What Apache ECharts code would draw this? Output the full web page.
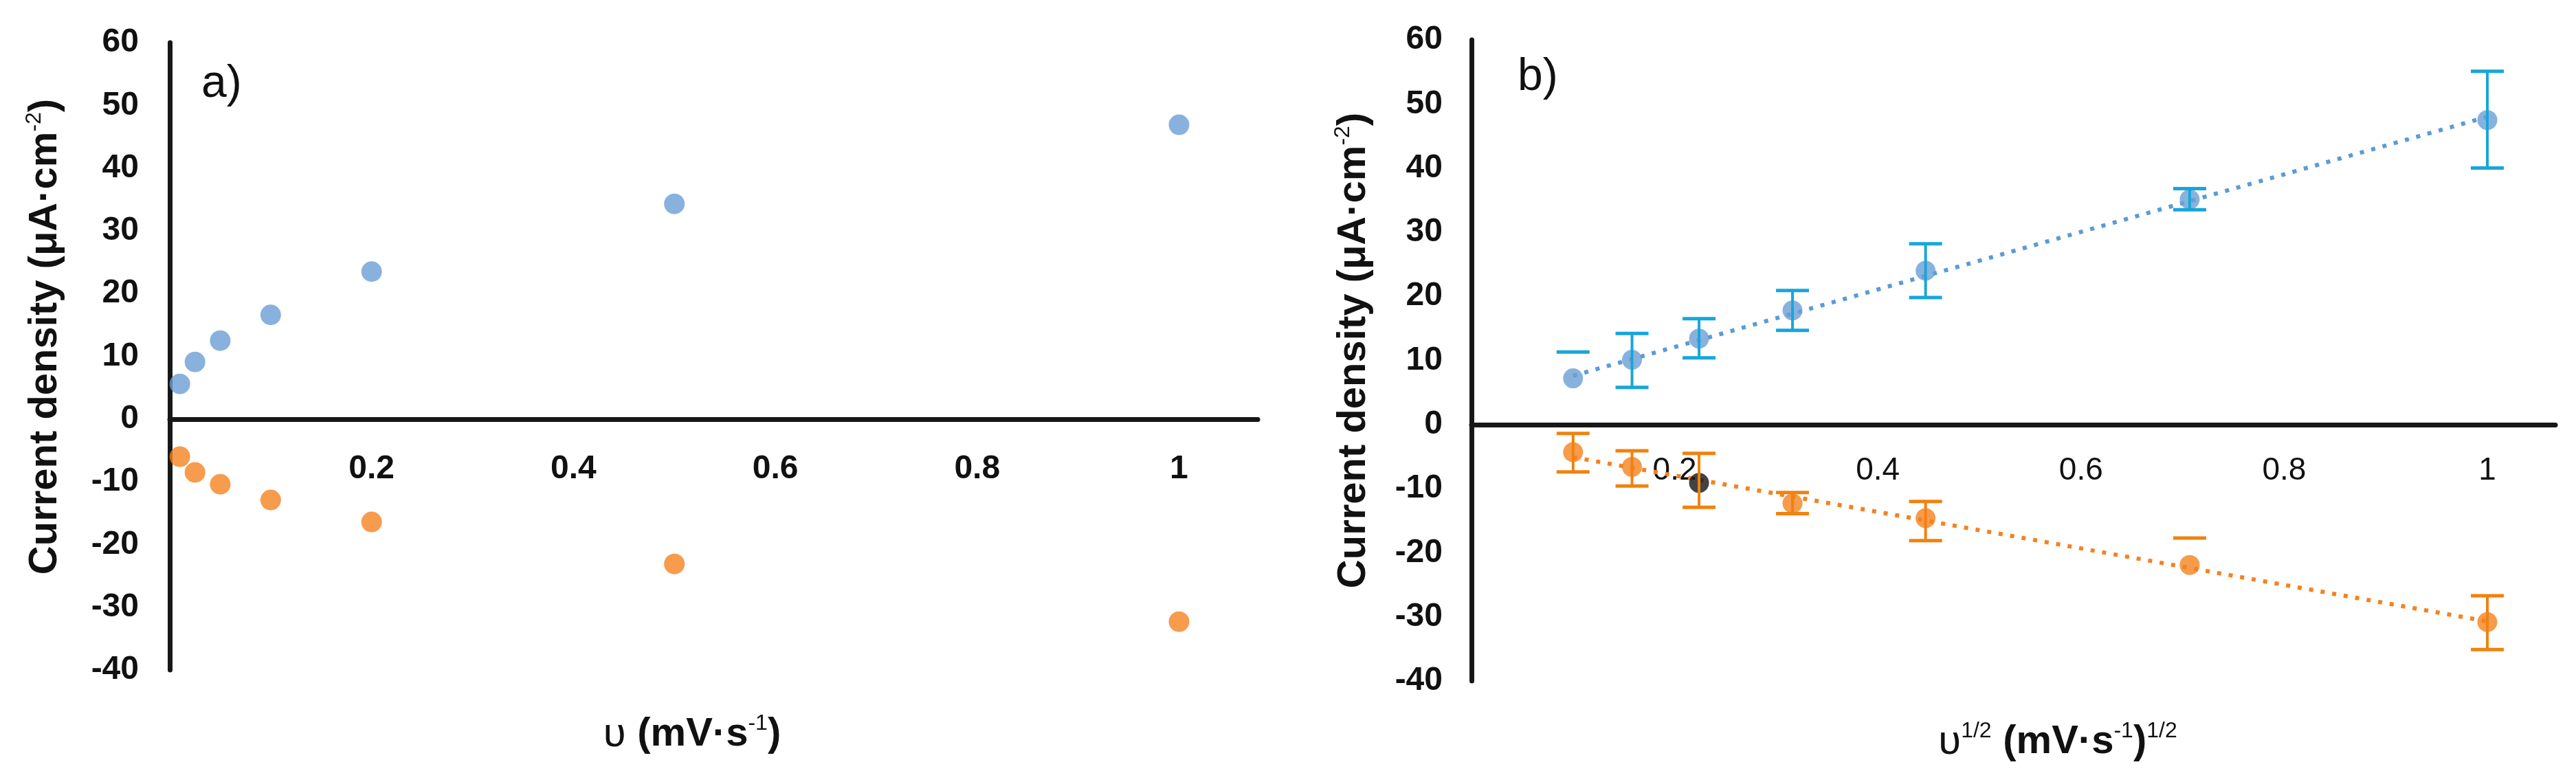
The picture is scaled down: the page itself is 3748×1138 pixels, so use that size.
<!DOCTYPE html>
<html lang="en">
<head>
<meta charset="UTF-8">
<title>Current density vs scan rate</title>
<script src="https://cdn.jsdelivr.net/npm/echarts@6/dist/echarts.min.js"></script>
<style>
  html, body { margin: 0; padding: 0; background: #fff; }
  #chart { width: 3748px; height: 1138px; }
</style>
</head>
<body>
<div id="chart"></div>
<script>
// panel a: current density vs scan rate
var scanRate   = [0.01, 0.025, 0.05, 0.1, 0.2, 0.5, 1];
var anodicA    = [5.6, 9.1, 12.5, 16.6, 23.5, 34.3, 46.9];
var cathodicA  = [-6.0, -8.5, -10.4, -12.9, -16.4, -23.1, -32.3];

// panel b: current density vs square root of scan rate, with error bars
var sqrtRate   = [0.1, 0.158, 0.224, 0.316, 0.447, 0.707, 1];
var anodicB    = [7.2, 10.1, 13.4, 17.8, 24.0, 35.1, 47.5];
var anodicHi   = [11.3, 14.2, 16.5, 20.9, 28.2, 36.8, 55.1];
var anodicLo   = [null, 5.8, 10.4, 14.7, 19.8, 33.5, 40.0];
var cathodicB  = [-4.3, -6.6, -9.1, -12.3, -14.6, -21.9, -30.8];
var cathodicHi = [-1.4, -4.1, -4.5, -10.6, -12.0, -17.7, -26.7];
var cathodicLo = [-7.4, -9.6, -12.9, -13.9, -18.1, null, -35.1];

// linear trend lines of panel b (ends)
var fitX         = [0.1, 1];
var anodicFitY   = [7.6, 48.0];
var cathodicFitY = [-5.1, -30.7];

var yTicks = [-40, 60, 10];   // min, max, step

var BLUE = '#6A9FD4', ORANGE = '#F5821F';
var BLUE_ERR = '#17A6DA', ORANGE_ERR = '#F0820F';
var AXIS = '#161816';
var FONT = "'Liberation Sans', Arial, sans-serif";

var grids = [
    {left: 247, top: 62, width: 1583, height: 913},
    {left: 2141, top: 58, width: 1577, height: 933}
];

function pairs(xs, ys) {
    return xs.map(function (x, i) { return [x, ys[i]]; });
}

function xFormatter(v) {
    if (v <= 0 || Math.abs(v * 5 - Math.round(v * 5)) > 1e-6) return '';
    return String(+v.toFixed(1));
}

function errorBars(color, lows) {
    return function (params, api) {
        var x = api.value(0), hi = api.value(1);
        var lo = lows[params.dataIndex];
        var half = 24, kids = [];
        var top = api.coord([x, hi]);
        var bot = lo == null ? null : api.coord([x, lo]);
        if (bot) {
            kids.push({type: 'line', shape: {x1: top[0], y1: top[1], x2: bot[0], y2: bot[1]},
                       style: {stroke: color, lineWidth: 4}});
        }
        [top, bot].forEach(function (p) {
            if (!p) return;
            kids.push({type: 'line', shape: {x1: p[0] - half, y1: p[1], x2: p[0] + half, y2: p[1]},
                       style: {stroke: color, lineWidth: 5}});
        });
        return {type: 'group', children: kids};
    };
}

// x axis sits on y = 0; shift it up from the grid bottom so labels follow the line
function xAxisOf(idx, max, margin, weight, size) {
    var zeroFromBottom = grids[idx].height * (0 - yTicks[0]) / (yTicks[1] - yTicks[0]);
    return {
        type: 'value', gridIndex: idx, min: 0, max: max, interval: 0.2,
        position: 'bottom', offset: -zeroFromBottom,
        axisLine: {onZero: false, lineStyle: {color: AXIS, width: 7}},
        axisTick: {show: false},
        splitLine: {show: false},
        axisLabel: {formatter: xFormatter, margin: margin, color: '#111',
                    fontFamily: FONT, fontWeight: weight, fontSize: size}
    };
}

function yAxisOf(idx, margin) {
    return {
        type: 'value', gridIndex: idx, min: yTicks[0], max: yTicks[1], interval: yTicks[2],
        axisLine: {show: true, onZero: false, lineStyle: {color: AXIS, width: 7}},
        axisTick: {show: false},
        splitLine: {show: false},
        axisLabel: {margin: margin, color: '#111', fontFamily: FONT, fontWeight: 'bold', fontSize: 48}
    };
}

var supStyle = {fontFamily: FONT, fontSize: 32, fontWeight: 'normal', verticalAlign: 'top', lineHeight: 30, fill: '#111'};
var boldStyle = {fontFamily: FONT, fontSize: 58, fontWeight: 'bold', lineHeight: 64, fill: '#111'};
var upsStyle = {fontFamily: FONT, fontSize: 60, fontWeight: 'normal', lineHeight: 64, fill: '#111'};

function yTitle(x, y) {
    return {
        type: 'text', x: x, y: y, rotation: Math.PI / 2,
        style: {
            text: '{b|Current density (\u03bcA\u00b7cm}{s|-2}{b|)}',
            align: 'center', verticalAlign: 'middle',
            rich: {b: boldStyle, s: supStyle}
        }
    };
}

var chart = echarts.init(document.getElementById('chart'));

var option = {
    backgroundColor: '#fff',
    animation: false,
    grid: grids,
    xAxis: [
        xAxisOf(0, 1.078, 49, 'bold', 48),
        xAxisOf(1, 1.067, 45, 'normal', 46)
    ],
    yAxis: [
        yAxisOf(0, 45),
        yAxisOf(1, 42)
    ],
    graphic: [
        yTitle(66, 490),
        yTitle(1970, 510),
        {
            type: 'text', x: 1007, y: 1069,
            style: {
                text: '{u|\u03c5 }{b|(mV\u00b7s}{s|-1}{b|)}',
                align: 'center', verticalAlign: 'middle',
                rich: {u: upsStyle, b: boldStyle, s: supStyle}
            }
        },
        {
            type: 'text', x: 2994, y: 1080,
            style: {
                text: '{u|\u03c5}{s|1/2}{u| }{b|(mV\u00b7s}{s|-1}{b|)}{s|1/2}',
                align: 'center', verticalAlign: 'middle',
                rich: {u: upsStyle, b: boldStyle, s: supStyle}
            }
        },
        {
            type: 'text', x: 293, y: 123,
            style: {text: 'a)', fontFamily: FONT, fontSize: 66, fill: '#111',
                    align: 'left', verticalAlign: 'middle'}
        },
        {
            type: 'text', x: 2208, y: 113,
            style: {text: 'b)', fontFamily: FONT, fontSize: 66, fill: '#111',
                    align: 'left', verticalAlign: 'middle'}
        }
    ],
    series: [
        {
            type: 'scatter', xAxisIndex: 0, yAxisIndex: 0, symbolSize: 30,
            itemStyle: {color: BLUE}, data: pairs(scanRate, anodicA)
        },
        {
            type: 'scatter', xAxisIndex: 0, yAxisIndex: 0, symbolSize: 30,
            itemStyle: {color: ORANGE}, data: pairs(scanRate, cathodicA)
        },
        {
            type: 'line', xAxisIndex: 1, yAxisIndex: 1, symbol: 'none', z: 1,
            lineStyle: {color: '#5B9BD5', width: 6, type: [6, 11]},
            data: pairs(fitX, anodicFitY)
        },
        {
            type: 'line', xAxisIndex: 1, yAxisIndex: 1, symbol: 'none', z: 1,
            lineStyle: {color: ORANGE, width: 6, type: [6, 11]},
            data: pairs(fitX, cathodicFitY)
        },
        {
            type: 'scatter', xAxisIndex: 1, yAxisIndex: 1, symbolSize: 29,
            itemStyle: {color: BLUE}, data: pairs(sqrtRate, anodicB)
        },
        {
            type: 'scatter', xAxisIndex: 1, yAxisIndex: 1, symbolSize: 29,
            itemStyle: {color: ORANGE},
            // the third cathodic marker is drawn dark in the original
            data: pairs(sqrtRate, cathodicB).map(function (p, i) {
                return i === 2 ? {value: p, itemStyle: {color: '#141414'}} : p;
            })
        },
        {
            type: 'custom', xAxisIndex: 1, yAxisIndex: 1, z: 5,
            renderItem: errorBars(BLUE_ERR, anodicLo),
            encode: {x: 0, y: 1},
            data: pairs(sqrtRate, anodicHi)
        },
        {
            type: 'custom', xAxisIndex: 1, yAxisIndex: 1, z: 5,
            renderItem: errorBars(ORANGE_ERR, cathodicLo),
            encode: {x: 0, y: 1},
            data: pairs(sqrtRate, cathodicHi)
        }
    ]
};

chart.setOption(option);
</script>
</body>
</html>
